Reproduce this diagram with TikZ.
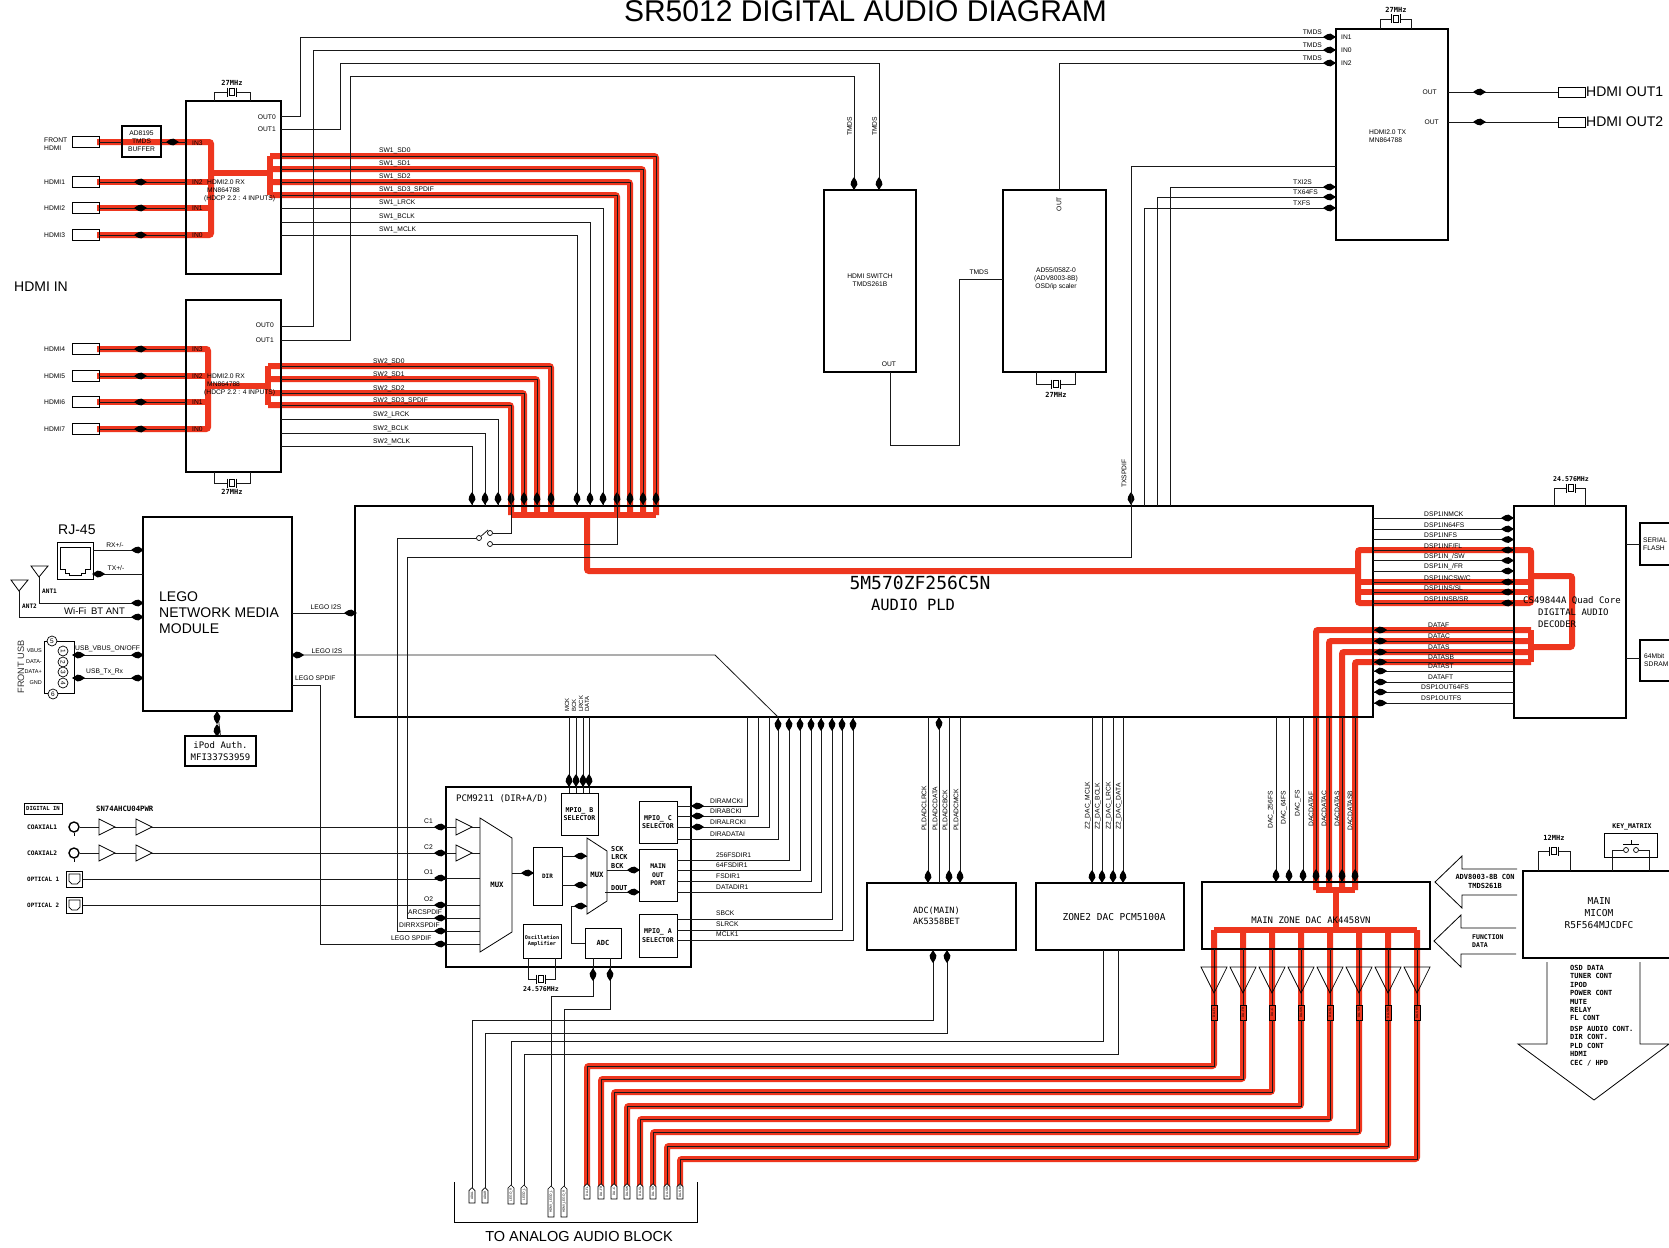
\documentclass[tikz,border=0pt]{standalone}
\usepackage{fontspec}
\setmainfont{Liberation Sans}
\newfontfamily\cadfont{DejaVu Sans Mono}
\usetikzlibrary{shapes.misc}
\definecolor{hotred}{RGB}{238,54,30}
\newcommand{\fsz}[2]{\pgfmathsetmacro{\fszlead}{#1*#2}\fontsize{#1}{\fszlead}\selectfont}
\tikzset{
  wire/.style={line width=0.8pt,black!90},
  hot/.style={line width=6pt,draw=hotred,rounded corners=2pt},
  block/.style={draw,line width=1.5pt,inner sep=0pt,outer sep=0pt},
  subblock/.style={draw,line width=1pt,inner sep=0pt,outer sep=0pt},
  lab/.style={font=\fontsize{6.7}{8}\selectfont,inner sep=0pt},
  cad/.style={font=\cadfont\fsz{#1}{1.3},inner sep=0pt,align=center},
  cadl/.style={font=\cadfont\fsz{#1}{1.3},inner sep=0pt,align=left},
  cads/.style={font=\cadfont\bfseries\fsz{#1}{1.3},inner sep=0pt,align=center},
  cadls/.style={font=\cadfont\bfseries\fsz{#1}{1.2},inner sep=0pt,align=left},
  big/.style={font=\fsz{#1}{1.15},inner sep=0pt,align=left},
  hport/.style={chamfered rectangle,chamfered rectangle corners={south west,south east},chamfered rectangle xsep=2pt,chamfered rectangle ysep=2pt,draw,line width=0.8pt,minimum width=27,minimum height=11,inner sep=0pt,outer sep=0pt},
  aport/.style={chamfered rectangle,chamfered rectangle corners={north east,south east},chamfered rectangle xsep=1.5pt,chamfered rectangle ysep=1.5pt,draw,line width=0.6pt,rotate=90,anchor=east,fill=white,minimum height=6,inner sep=0pt,outer sep=0pt,font=\fontsize{3.2}{3.4}\selectfont},
  tipmark/.pic={\fill[black] (1,0) -- (-4.5,3.4) -- (-7.5,2.8) -- (-11.5,0.5) -- (-11.5,-0.5) -- (-7.5,-2.8) -- (-4.5,-3.4) -- cycle;},
  xtal/.pic={\fill[white] (-5,-5) rectangle (5,5);
    \draw[line width=0.7pt] (-2.2,-3.8) rectangle (2.2,3.8);
    \draw[line width=0.7pt] (-4.5,-4.5) -- (-4.5,4.5) (4.5,-4.5) -- (4.5,4.5);},
  bufr/.pic={\draw[line width=0.7pt,fill=white] (0,-8) -- (16,0) -- (0,8) -- cycle;},
  ampd/.pic={\draw[line width=0.7pt] (-13,0) -- (13,0) -- (0,26) -- cycle;}
}
\begin{document}
\begin{tikzpicture}[x=1pt,y=-1pt]
  \useasboundingbox (0,0) rectangle (1669,1247);
  \clip (0,0) rectangle (1669,1247);
  \fill[white] (0,0) rectangle (1669,1247);

  \draw[hot] (97,142) -| (211,235) -- (97,235);
  \draw[hot] (97,182) -- (211,182) (97,208) -- (211,208) (211,173) -- (270,173) (270,156) -- (270,195);
  \foreach \y/\x in {156/656,169/643,182/630,195/617} \draw[hot] (270,\y) -| (\x,515);
  \draw[hot] (97,349) -| (208,429) -- (97,429);
  \draw[hot] (97,376) -- (208,376) (97,402) -- (208,402) (208,386) -- (268,386) (268,366) -- (268,405);
  \foreach \y/\x in {366/551,379/537,393/524,405/511} \draw[hot] (268,\y) -| (\x,515);
  \draw[hot] (511,515) -- (656,515);
  \draw[hot] (587,515) |- (1358,571);
  \draw[hot] (1358,603) |- (1531,550) -- (1531,603) -- cycle;
  \draw[hot] (1358,582) -- (1531,582) (1358,592) -- (1531,592);
  \draw[hot] (1531,576) -| (1572,647) -- (1531,647);
  \draw[hot] (1531,630) -- (1531,662);
  \foreach \y/\x in {630/1316,641/1329,652/1342,662/1355} \draw[hot] (1531,\y) -| (\x,890);
  \draw[hot] (1316,890) -- (1355,890) (1336,890) -- (1336,930) (1214,930) -- (1417,930);
  \foreach \x/\y/\X in {1214/1066/587,1243/1079/601,1272/1092/614,1301/1106/627,1330/1119/640,1359/1132/653,1388/1146/667,1417/1159/680}
    \draw[hot] (\x,930) |- (\X,\y) -- (\X,1186);

  \node[big=30,anchor=base] (title) at (865.5,22) {SR5012 DIGITAL AUDIO DIAGRAM};

  \node[block,minimum width=95,minimum height=173] (rxa) at (233.5,187.5) {};
  \node[block,minimum width=95,minimum height=172] (rxb) at (233.5,386) {};
  \node[block,minimum width=39,minimum height=31] (tmb) at (141.5,141.5) {};
  \node[block,minimum width=92,minimum height=182] (hsw) at (870,281) {};
  \node[block,minimum width=103,minimum height=182] (osd) at (1054.5,281) {};
  \node[block,minimum width=112,minimum height=211] (tx) at (1392,134.5) {};
  \node[block,minimum width=1018,minimum height=211] (pld) at (864,611.5) {};
  \node[block,minimum width=112,minimum height=212] (dsp) at (1570,612) {};
  \node[block,minimum width=40,minimum height=42] (flash) at (1660,544) {};
  \node[block,minimum width=40,minimum height=41] (sdram) at (1660,660.5) {};
  \node[block,minimum width=149,minimum height=194] (lego) at (217.5,614) {};
  \node[block,minimum width=71,minimum height=30] (ipod) at (220.5,751) {};
  \node[subblock,minimum width=36,minimum height=37] (rj) at (75,560.5) {};
  \node[block,minimum width=245,minimum height=180] (pcm) at (568.5,877) {};
  \node[subblock,minimum width=37,minimum height=42] (mpb) at (579.5,814) {};
  \node[subblock,minimum width=38,minimum height=42] (mpc) at (658,822) {};
  \node[subblock,minimum width=38,minimum height=52] (mout) at (658,875) {};
  \node[subblock,minimum width=38,minimum height=43] (mpa) at (658,935.5) {};
  \node[subblock,minimum width=29,minimum height=58] (dir) at (547.5,876) {};
  \node[subblock,minimum width=38,minimum height=34] (osc) at (542,941) {};
  \node[subblock,minimum width=36,minimum height=30] (adc) at (603,943) {};
  \node[block,minimum width=149,minimum height=67] (adm) at (941.5,916.5) {};
  \node[block,minimum width=148,minimum height=67] (zdac) at (1110,916.5) {};
  \node[block,minimum width=228,minimum height=67] (dac) at (1316,915.5) {};
  \node[block,minimum width=157,minimum height=87] (micom) at (1601.5,914.5) {};
  \node[subblock,minimum width=53,minimum height=24] (keym) at (1630.5,845) {};

  \draw[wire] (rxa.north -| 214,0) |- (250,92) -- (rxa.north -| 250,0);
  \pic at (232,92) {xtal};
  \node[cads=7] (xa) at (232,83) {27MHz};
  \draw[wire] (rxb.south -| 214,0) |- (250,483) -- (rxb.south -| 250,0);
  \pic at (232,483) {xtal};
  \node[cads=7] (xb) at (232,492) {27MHz};
  \draw[wire] (tx.north -| 1380,0) |- (1411,19) -- (tx.north -| 1411,0);
  \pic at (1396,19) {xtal};
  \node[cads=7] (xc) at (1396,10) {27MHz};
  \draw[wire] (osd.south -| 1036,0) |- (1075,384) -- (osd.south -| 1075,0);
  \pic at (1056,384) {xtal};
  \node[cads=7] (xd) at (1056,395) {27MHz};
  \draw[wire] (dsp.north -| 1554,0) |- (1585,488) -- (dsp.north -| 1585,0);
  \pic at (1571,488) {xtal};
  \node[cads=6.6] (xe) at (1571,479) {24.576MHz};
  \draw[wire] (osc.south -| 528,0) |- (555,979) -- (osc.south -| 555,0);
  \pic at (541,979) {xtal};
  \node[cads=6.6] (xf) at (541,989) {24.576MHz};
  \draw[wire] (micom.north -| 1538,0) |- (1570,851) -- (micom.north -| 1570,0);
  \pic at (1554,851) {xtal};
  \node[cads=7] (xg) at (1554,838) {12MHz};

  \node[hport] (fh) at (85.5,142) {};
  \node[lab,align=left,anchor=west] (fhl) at (44,144) {FRONT\\HDMI};
  \draw[wire] (fh) -- (tmb.west |- fh);
  \draw[wire] (tmb.east |- fh) -- (rxa.west |- fh);
  \pic at (178,142) {tipmark};
  \node[lab,align=center] (tmbl) at (tmb) {AD8195\\TMDS\\BUFFER};
  \node[lab,anchor=west] (rxain3) at (192,143) {IN3};
  \foreach \n/\y/\t/\p in {ha/182/HDMI1/IN2,hb/208/HDMI2/IN1,hc/235/HDMI3/IN0,hd/349/HDMI4/IN3,he/376/HDMI5/IN2,hf/402/HDMI6/IN1,hg/429/HDMI7/IN0} {
    \node[hport] (\n) at (85.5,\y) {};
    \node[lab,anchor=west] (l\n) at (44,\y) {\t};
    \draw[wire] (\n) -- (rxa.west |- \n);
    \pic at (146,\y) {tipmark};
    \node[lab,anchor=west] (p\n) at (192,\y) {\p};
  }
  \node[lab,align=left,anchor=west] (rxat) at (204,191) {\hspace{3pt}HDMI2.0 RX\\\hspace{3pt}MN864788\\(HDCP 2.2 : 4 INPUTS)};
  \node[lab,align=left,anchor=west] (rxbt) at (204,385) {\hspace{3pt}HDMI2.0 RX\\\hspace{3pt}MN864788\\(HDCP 2.2 : 4 INPUTS)};
  \node[big=14,anchor=west] (hin) at (14,287) {HDMI IN};
  \node[lab,anchor=east] (oa0) at (276,117) {OUT0};
  \node[lab,anchor=east] (oa1) at (276,129) {OUT1};
  \node[lab,anchor=east] (ob0) at (274,325) {OUT0};
  \node[lab,anchor=east] (ob1) at (274,340) {OUT1};

  \draw[wire] (rxa.east |- 0,116) -| (300,37) -- (tx.west |- 0,37);
  \draw[wire] (rxb.east |- 0,326) -| (313,50) -- (tx.west |- 0,50);
  \draw[wire] (rxa.east |- 0,129) -| (340,63) -| (hsw.north -| 879,0);
  \draw[wire] (rxb.east |- 0,340) -| (350,76) -| (hsw.north -| 854,0);
  \draw[wire] (osd.north -| 1059,0) |- (tx.west |- 0,63);
  \draw[wire] (hsw.south -| 890,0) |- (959,445) |- (osd.west |- 0,279);
  \foreach \y/\t [count=\i] in {37/TMDS,50/TMDS,63/TMDS} {
    \pic at (1335,\y) {tipmark};
    \node[lab,anchor=east] (tm\i) at (1322,\y-4.5) {\t};
  }
  \foreach \y/\t [count=\i] in {37/IN1,50/IN0,63/IN2}
    \node[lab,anchor=west] (ti\i) at (1341,\y) {\t};
  \foreach \x [count=\i] in {854,879} {
    \pic[rotate=-90] at (\x,189) {tipmark};
    \node[lab,anchor=west,rotate=90] (ts\i) at (\x-4.5,136) {TMDS};
  }
  \node[lab,align=center] (hswt) at (870,280) {HDMI SWITCH\\TMDS261B};
  \node[lab] (hswo) at (889,364) {OUT};
  \node[lab,rotate=90] (osdo) at (1059,204) {OUT};
  \node[lab,align=center] (osdt) at (1056,279) {AD55/058Z-0\\(ADV8003-8B)\\OSD/ip scaler};
  \node[lab] (osdm) at (979,272) {TMDS};
  \node[lab,align=left,anchor=west] (txt) at (1369,136) {HDMI2.0 TX\\MN864788};
  \foreach \y/\xo [count=\i] in {92/1437,122/1439} {
    \node[lab,anchor=east] (to\i) at (\xo,\y) {OUT};
    \node[hport,minimum height=10] (ho\i) at (1571.5,\y) {};
    \draw[wire] (tx.east |- ho\i) -- (ho\i);
    \pic at (1485,\y) {tipmark};
    \node[big=14,anchor=west] (hol\i) at (1586,\y) {HDMI OUT\i};
  }
  \foreach \y/\x/\t [count=\i] in {187/1170/TXI2S,197/1157/TX64FS,208/1144/TXFS} {
    \draw[wire] (pld.north -| \x,0) |- (tx.west |- 0,\y);
    \pic at (1335,\y) {tipmark};
    \node[lab,anchor=west] (txl\i) at (1293,\y-5) {\t};
  }

  \foreach \y/\x/\t [count=\i] in {156/656/SW1\_SD0,169/643/SW1\_SD1,182/630/SW1\_SD2,208/603/SW1\_LRCK,222/590/SW1\_BCLK,235/577/SW1\_MCLK} {
    \draw[wire] (rxa.east |- 0,\y) -| (pld.north -| \x,0);
    \pic[rotate=-90] at (\x,504) {tipmark};
    \node[lab,anchor=west] (sa\i) at (379,\y-5) {\t};
  }
  \foreach \y/\x/\t [count=\i] in {366/551/SW2\_SD0,379/537/SW2\_SD1,393/524/SW2\_SD2,419/498/SW2\_LRCK,433/485/SW2\_BCLK,446/472/SW2\_MCLK} {
    \draw[wire] (rxb.east |- 0,\y) -| (pld.north -| \x,0);
    \pic[rotate=-90] at (\x,504) {tipmark};
    \node[lab,anchor=west] (sb\i) at (373,\y-4.5) {\t};
  }
  \node[lab,anchor=west] (sa4) at (379,190) {SW1\_SD3\_SPDIF};
  \node[lab,anchor=west] (sb4) at (373,401) {SW2\_SD3\_SPDIF};
  \pic[rotate=-90] at (617,504) {tipmark};
  \pic[rotate=-90] at (511,504) {tipmark};
  \pic[rotate=-90] at (1131,504) {tipmark};

  \node[circle,draw,line width=0.7pt,inner sep=0pt,minimum size=5] (swc) at (479,538) {};
  \node[circle,draw,line width=0.7pt,inner sep=0pt,minimum size=5] (swu) at (490,533) {};
  \node[circle,draw,line width=0.7pt,inner sep=0pt,minimum size=5] (swd) at (490,544) {};
  \draw[wire] (swc) -- (488,530);
  \draw[wire] (rxb.east |- 0,405) -| (511,533) -- (swu);
  \draw[wire] (rxa.east |- 0,195) -| (617,544) -- (swd);
  \draw[wire] (swc) -- (397,538) -- (397,931) -- (pcm.west |- 0,931);
  \draw[wire] (pcm.west |- 0,918) -| (407,557) -- (1131,557) -- (1131,166) -- (tx.west |- 0,166);
  \draw[wire] (lego.east |- 0,685) -| (320,944) -- (pcm.west |- 0,944);
  \node[lab,anchor=west,rotate=90] (txsp) at (1124,488) {TXSPDIF};
  \node[cad=18] (pldt) at (920,583) {5M570ZF256C5N};
  \node[cad=15.5] (pldu) at (913,605) {AUDIO PLD};

  \draw[wire] (rj.east |- 0,550) -- (lego.west |- 0,550);
  \pic at (143,550) {tipmark};
  \draw[wire] (rj.east |- 0,574) -- (lego.west |- 0,574);
  \pic[rotate=180] at (93,574) {tipmark};
  \node[lab] (rxl) at (115,545) {RX+/-};
  \node[lab] (txl) at (116,568.5) {TX+/-};
  \node[big=14,anchor=west] (rjl) at (58,530) {RJ-45};
  \draw[line width=0.8pt] (60,547) -- (90,547) -- (90,569) -- (85,569) -- (85,573) -- (81,573) -- (81,575) -- (69,575) -- (69,573) -- (65,573) -- (65,569) -- (60,569) -- cycle;
  \coordinate (anta) at (39,577);
  \coordinate (antb) at (19,591);
  \draw[line width=0.8pt] (anta) -- (31,566) -- (48,566) -- cycle;
  \draw[line width=0.8pt] (antb) -- (11,580) -- (28,580) -- cycle;
  \draw[wire] (anta) |- (lego.west |- 0,603);
  \draw[wire] (antb) |- (lego.west |- 0,617);
  \pic at (143,603) {tipmark};
  \pic at (143,617) {tipmark};
  \node[cads=6.1,anchor=west] (antal) at (42,591) {ANT1};
  \node[cads=6.1,anchor=west] (antbl) at (22,606) {ANT2};
  \node[big=9.5,anchor=west] (wifi) at (64,611) {Wi-Fi\enspace BT ANT};
  \node[big=14,anchor=west] (legot) at (159,613) {LEGO\\NETWORK MEDIA\\MODULE};
  \draw[wire] (lego.south) -- (ipod.north);
  \pic[rotate=90] at (217,712) {tipmark};
  \pic[rotate=-90] at (217,736) {tipmark};
  \node[cad=9] (ipodt) at (ipod) {iPod Auth.\\MFI337S3959};
  \node[subblock,minimum width=30,minimum height=52] (usb) at (59,667) {};
  \foreach \y/\t/\d [count=\i] in {651/VBUS/1,662/DATA-/2,672/DATA+/3,683/GND/4} {
    \node[lab,font=\fontsize{5.5}{6}\selectfont,anchor=east] (ul\i) at (42,\y) {\t};
    \node[circle,draw,line width=0.7pt,fill=white,inner sep=0pt,minimum size=10,rotate=-90,font=\fontsize{6.5}{7}\selectfont] (un\i) at (63,\y) {\d};
  }
  \node[circle,draw,line width=0.7pt,fill=white,inner sep=0pt,minimum size=10,font=\fontsize{6.5}{7}\selectfont] (un5) at (52,641) {5};
  \node[circle,draw,line width=0.7pt,fill=white,inner sep=0pt,minimum size=10,font=\fontsize{6.5}{7}\selectfont] (un6) at (53,694) {6};
  \node[big=9.2,rotate=90,text=black!80] (ufr) at (21,667) {FRONT USB};
  \foreach \y/\t/\xl [count=\i] in {655/{USB\_VBUS\_ON/OFF}/75,678/USB\_Tx\_Rx/86} {
    \draw[wire] (usb.east |- 0,\y) -- (lego.west |- 0,\y);
    \pic[rotate=180] at (73,\y) {tipmark};
    \pic at (143,\y) {tipmark};
    \node[lab,anchor=west] (ut\i) at (\xl,\y-6) {\t};
  }
  \draw[wire] (lego.east |- 0,613) -- (pld.west |- 0,613);
  \pic at (356,613) {tipmark};
  \node[lab] (lia) at (326,607) {LEGO I2S};
  \draw[wire] (lego.east |- 0,655) -- (715,655) -- (pld.south -| 778,0);
  \pic[rotate=180] at (292,655) {tipmark};
  \node[lab] (lib) at (327,651) {LEGO I2S};
  \node[lab,anchor=west] (lsp) at (295,678) {LEGO SPDIF};

  \node[subblock,line width=0.8pt,cads=5.6,minimum width=38,minimum height=11] (digin) at (43,808.5) {DIGITAL IN};
  \node[cads=7.3,anchor=west] (snl) at (96,809) {SN74AHCU04PWR};
  \foreach \n/\y/\t in {ca/827/COAXIAL1,cb/853/COAXIAL2} {
    \node[circle,draw,line width=1.4pt,inner sep=0pt,minimum size=10] (\n) at (74,\y) {};
    \draw[line width=0.7pt] (\n.south) -- ++(0,3);
    \draw[wire] (\n) -- (pcm.west |- \n);
    \pic at (99,\y) {bufr};
    \pic at (136,\y) {bufr};
    \node[cads=6.2,anchor=west] (l\n) at (27,\y) {\t};
  }
  \foreach \n/\y/\t in {oa/879/OPTICAL 1,ob/905/OPTICAL 2} {
    \node[subblock,minimum width=16,minimum height=16] (\n) at (74.5,\y) {};
    \draw[line width=0.7pt] (69,\y-5) -- (80,\y-5) -- (80,\y+2) -- (77,\y+5) -- (72,\y+5) -- (69,\y+2) -- cycle;
    \draw[wire] (\n) -- (pcm.west |- \n);
    \node[cads=5.9,anchor=west] (l\n) at (27,\y) {\t};
  }
  \foreach \y/\t/\xl [count=\i] in {827/C1/424,853/C2/424,878/O1/424,905/O2/424,918/ARCSPDIF/408,931/DIRRXSPDIF/399,944/LEGO SPDIF/391} {
    \pic at (446,\y) {tipmark};
    \node[lab,anchor=west] (pi\i) at (\xl,\y-5.5) {\t};
    \draw[wire] (pcm.west |- 0,\y) -- (480,\y);
  }
  \pic at (456,827) {bufr};
  \pic at (456,853) {bufr};
  \draw[line width=0.8pt,fill=white] (480,818) -- (512,838) -- (512,932) -- (480,952) -- cycle;
  \draw[line width=0.8pt,fill=white] (587,838) -- (607,851) -- (607,901) -- (587,914) -- cycle;
  \node[cads=7.3] (mxa) at (497,885) {MUX};
  \node[cads=7.3] (mxb) at (597,875) {MUX};
  \node[cads=6] (dirt) at (dir) {DIR};
  \node[cadl=9,anchor=west] (pcmt) at (456,799) {PCM9211 (DIR+A/D)};
  \node[cads=6.6] (mpbt) at (mpb) {MPIO\_ B\\SELECTOR};
  \node[cads=6.6] (mpct) at (mpc) {MPIO\_ C\\SELECTOR};
  \node[cads=6.4] (mott) at (mout) {MAIN\\OUT\\PORT};
  \node[cads=6.6] (mpat) at (mpa) {MPIO\_ A\\SELECTOR};
  \node[cads=5.2] (osct) at (osc) {Oscillation\\Amplifier};
  \node[cads=7] (adct) at (adc) {ADC};
  \draw[wire] (512,873) -- (dir.west |- 0,873);
  \pic at (533,873) {tipmark};
  \foreach \y in {856,885} {
    \draw[wire] (dir.east |- 0,\y) -- (587,\y);
    \pic at (586,\y) {tipmark};
  }
  \draw[wire] (adc.west) -| (571,906) -- (587,906);
  \pic at (586,906) {tipmark};
  \draw[wire] (607,870) -- (mout.west |- 0,870);
  \pic at (639,870) {tipmark};
  \draw[wire] (605,892) -- (mout.west |- 0,892);
  \pic at (639,892) {tipmark};
  \node[cads=6.8,align=left,anchor=west] (sck) at (611,857.5) {SCK\\LRCK\\BCK};
  \node[cads=6.8,anchor=west] (dout) at (611,888) {DOUT};
  \foreach \x/\t [count=\i] in {569/MCK,576/BCK,583/LRCK,589/DATA} {
    \draw[wire] (pld.south -| \x,0) -- (mpb.north -| \x,0);
    \pic[rotate=-90] at (\x,786) {tipmark};
    \node[lab,font=\fontsize{6}{7}\selectfont,anchor=west,rotate=90] (mb\i) at (\x-2,712) {\t};
  }
  \foreach \y/\x/\t [count=\i] in {806/747/DIRAMCKI,816/758/DIRABCKI,827/769/DIRALRCKI} {
    \draw[wire] (mpc.east |- 0,\y) -| (pld.south -| \x,0);
    \pic[rotate=180] at (692,\y) {tipmark};
    \node[lab,anchor=west] (mc\i) at (710,\y-5) {\t};
  }
  \draw[wire] (mpc.east |- 0,839) -| (pld.south -| 778,0);
  \node[lab,anchor=west] (mc4) at (710,834) {DIRADATAI};
  \foreach \y/\x/\t [count=\i] in {860/789/256FSDIR1,870/800/64FSDIR1,881/811/FSDIR1,892/821/DATADIR1} {
    \draw[wire] (mout.east |- 0,\y) -| (pld.south -| \x,0);
    \node[lab,anchor=west] (mo\i) at (716,\y-4.5) {\t};
  }
  \foreach \y/\x/\t [count=\i] in {919/832/SBCK,930/842/SLRCK,940/853/MCLK1} {
    \draw[wire] (mpa.east |- 0,\y) -| (pld.south -| \x,0);
    \node[lab,anchor=west] (ma\i) at (716,\y-6) {\t};
  }
  \foreach \x in {778,789,800,811,821,832,842,853}
    \pic[rotate=90] at (\x,719) {tipmark};

  \foreach \x/\b/\t [count=\i] in {928/831/PLDADCLRCK,939/831/PLDADCDATA,949/831/PLDADCBCK,960/831/PLDADCMCK} {
    \draw[wire] (pld.south -| \x,0) -- (adm.north -| \x,0);
    \node[lab,anchor=west,rotate=90] (ad\i) at (\x-4,\b) {\t};
  }
  \foreach \x in {928,949,960}
    \pic[rotate=-90] at (\x,882) {tipmark};
  \pic[rotate=90] at (939,718) {tipmark};
  \foreach \x/\t [count=\i] in {1092/Z2\_DAC\_MCLK,1102/Z2\_DAC\_BCLK,1113/Z2\_DAC\_LRCK,1123/Z2\_DAC\_DATA} {
    \draw[wire] (pld.south -| \x,0) -- (zdac.north -| \x,0);
    \pic[rotate=-90] at (\x,882) {tipmark};
    \node[lab,anchor=west,rotate=90] (zd\i) at (\x-4,830) {\t};
  }
  \foreach \x/\b/\t [count=\i] in {1276/829/DAC\_256FS,1289/825/DAC\_64FS,1303/817/DAC\_FS,1316/827/DACDATAF,1329/827/DACDATAC,1342/827/DACDATAS,1355/831/DACDATASB} {
    \draw[wire] (pld.south -| \x,0) -- (dac.north -| \x,0);
    \pic[rotate=-90] at (\x,881) {tipmark};
    \node[lab,anchor=west,rotate=90] (dd\i) at (\x-5,\b) {\t};
  }
  \node[cad=8.6,align=left,anchor=west] (admt) at (913,915.5) {ADC(MAIN)\\AK5358BET};
  \node[cad=9.5] (zdact) at (1114,917) {ZONE2 DAC PCM5100A};
  \node[cad=9] (dact) at (1311,920) {MAIN ZONE DAC AK4458VN};

  \foreach \y/\t [count=\i] in {518/DSP1INMCK,529/DSP1IN64FS,539.5/DSP1INFS,550/{DSP1INF/FL},560.5/{DSP1IN\_/SW},571/{DSP1IN\_/FR},582/{DSP1INCSW/C},592/{DSP1INS/SL},603/{DSP1INSB/SR}} {
    \draw[wire] (pld.east |- 0,\y) -- (dsp.west |- 0,\y);
    \pic at (1513,\y) {tipmark};
    \node[lab,anchor=west] (di\i) at (1424,\y-4) {\t};
  }
  \foreach \y/\t/\xl [count=\i] in {630/DATAF/1428,641/DATAC/1428,652/DATAS/1428,662/DATASB/1428,671/DATAST/1428,682/DATAFT/1428,692/DSP1OUT64FS/1421,703/DSP1OUTFS/1421} {
    \draw[wire] (pld.east |- 0,\y) -- (dsp.west |- 0,\y);
    \pic[rotate=180] at (1375,\y) {tipmark};
    \node[lab,anchor=west] (do\i) at (\xl,\y-4.5) {\t};
  }
  \node[cadl=9,anchor=west] (dspt) at (1523,612) {CS49844A Quad Core\\\hspace{15pt}DIGITAL AUDIO\\\hspace{15pt}DECODER};
  \draw[wire] (dsp.east |- flash) -- (flash.west);
  \draw[wire] (dsp.east |- 0,658) -- (sdram.west |- 0,658);
  \node[lab,align=left,anchor=west] (flt) at (1643,544) {SERIAL\\FLASH};
  \node[lab,align=left,anchor=west] (sdt) at (1644,660) {64Mbit\\SDRAM};

  \foreach \x/\y/\X/\t [count=\i] in {1214/1066/587/DA-FL,1243/1079/601/DA-FR,1272/1092/614/DA-C,1301/1106/627/DA-SW,1330/1119/640/DA-SL,1359/1132/653/DA-SR,1388/1146/667/DA-SBL,1417/1159/680/DA-SBR} {
    \draw[wire] (dac.south -| \x,0) -- (\x,993);
    \pic at (\x,967) {ampd};
    \node[draw,line width=0.7pt,rotate=90,inner sep=0pt,minimum width=15,minimum height=6,font=\fontsize{3.2}{3.4}\selectfont] (cb\i) at (\x,1012.5) {\t};
    \node[aport,minimum width=15] (an\i) at (\X,1184) {\t};
    \draw[wire] (\x,993) -- (cb\i.east);
    \draw[wire] (cb\i.west) |- (\X,\y) -- (an\i.east);
  }
  \node[aport,minimum width=15] (ana) at (472,1188) {ADAL};
  \node[aport,minimum width=15] (anb) at (485,1188) {ADAR};
  \node[aport,minimum width=19] (anc) at (511,1185) {LEGO\_R};
  \node[aport,minimum width=19] (and) at (524,1185) {LEGO\_L};
  \node[aport,minimum width=31] (ane) at (551,1186) {HDMI\_LEGO\_L};
  \node[aport,minimum width=31] (anf) at (564,1186) {HDMI\_LEGO\_R};
  \draw[wire] (adm.south -| 933,0) |- (472,1020) -- (ana.east);
  \draw[wire] (adm.south -| 947,0) |- (485,1033) -- (anb.east);
  \draw[wire] (zdac.south -| 1103,0) |- (511,1041) -- (anc.east);
  \draw[wire] (zdac.south -| 1118,0) |- (524,1054) -- (and.east);
  \draw[wire] (pcm.south -| 593,0) |- (551,996) -- (ane.east);
  \draw[wire] (pcm.south -| 610,0) |- (564,1009) -- (anf.east);
  \draw[wire] (adc.south -| 593,0) -- (pcm.south -| 593,0);
  \draw[wire] (adc.south -| 610,0) -- (pcm.south -| 610,0);
  \pic[rotate=90] at (593,969) {tipmark};
  \pic[rotate=90] at (610,969) {tipmark};
  \pic[rotate=90] at (933,951) {tipmark};
  \pic[rotate=90] at (947,951) {tipmark};
  \draw[line width=1pt] (454,1182) |- (697,1222) -- (697,1182);
  \node[big=14.5] (ablk) at (579,1236) {TO ANALOG AUDIO BLOCK};

  \draw[line width=0.8pt] (1517,869) -- (1462,869) -- (1462,856) -- (1435,882) -- (1462,908) -- (1462,895) -- (1517,895);
  \draw[line width=0.8pt] (1516,928) -- (1461,928) -- (1461,915) -- (1434,941) -- (1461,967) -- (1461,954) -- (1516,954);
  \node[cads=7] (adv) at (1485,881) {ADV8003-8B CON\\TMDS261B};
  \node[cadls=6.5,anchor=west] (fdt) at (1472,941) {FUNCTION\\DATA};
  \draw[line width=0.8pt] (1547,962) -- (1547,1044) -- (1518,1044) -- (1594,1100) -- (1669,1044) -- (1640,1044) -- (1640,962);
  \node[cadls=7,anchor=north west] (ctl) at (1570,965) {OSD DATA\\TUNER CONT\\IPOD\\POWER CONT\\MUTE\\RELAY\\FL CONT};
  \node[cadls=7,anchor=north west] (ctm) at (1570,1026) {DSP AUDIO CONT.\\DIR CONT.\\PLD CONT\\HDMI\\CEC / HPD};
  \node[cad=9.5] (mict) at (1599,913) {MAIN\\MICOM\\R5F564MJCDFC};
  \node[circle,draw,line width=0.7pt,inner sep=0pt,minimum size=5] (kya) at (1626,850) {};
  \node[circle,draw,line width=0.7pt,inner sep=0pt,minimum size=5] (kyb) at (1636,850) {};
  \draw[wire] (kya) -| (micom.north -| 1612,0);
  \draw[wire] (kyb) -| (micom.north -| 1649,0);
  \draw[line width=0.7pt] (1623,844) -- (1639,844) (1631,844) -- (1631,840);
  \node[cads=6.5] (kyl) at (1632,827) {KEY\_MATRIX};
\end{tikzpicture}
\end{document}
